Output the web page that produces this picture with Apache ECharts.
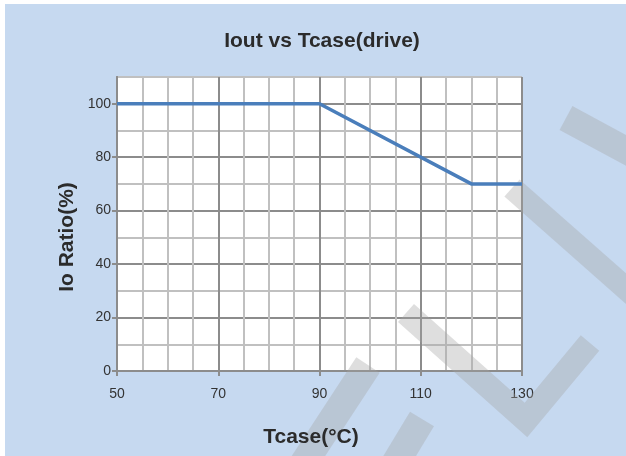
<!DOCTYPE html>
<html>
<head>
<meta charset="utf-8">
<script src="https://cdn.jsdelivr.net/npm/echarts@6/dist/echarts.min.js"></script>
<style>
  html, body { margin: 0; padding: 0; background: #ffffff; }
  #chart { position: absolute; left: 5px; top: 4px; width: 621px; height: 452px; }
</style>
</head>
<body>
<div id="chart"></div>
<script>
// Data
const tcase = [50, 90, 120, 130];
const ioRatio = [100, 100, 70, 70];
const yTickLabels = [0, 20, 40, 60, 80, 100];
const xTickLabels = [50, 70, 90, 110, 130];

const titleText = 'Iout vs Tcase(drive)';
const xName = 'Tcase(°C)';
const yName = 'Io Ratio(%)';

const seriesData = tcase.map((t, i) => [t, ioRatio[i]]);

const OX = 5, OY = 4; // container offset in page
const wmColor = 'rgba(164,164,164,0.36)';
function P(pts) { return pts.map(p => [p[0] - OX, p[1] - OY]); }

const FONT = 'Liberation Sans, Arial, sans-serif';
const major = '#8c8c8c', minor = '#c0c0c0';
const chart = echarts.init(document.getElementById('chart'), null, { renderer: 'canvas' });
chart.setOption({
  backgroundColor: '#c6d9f0',
  animation: false,
  textStyle: { fontFamily: FONT },
  title: {
    text: titleText,
    left: 317 - OX,
    top: 22,
    textAlign: 'center',
    textStyle: { fontSize: 21, fontWeight: 'bold', color: '#2b2b2b', fontFamily: FONT }
  },
  grid: {
    left: 112, top: 73, width: 405, height: 294,
    show: true, backgroundColor: '#ffffff', borderWidth: 0
  },
  xAxis: [{
    type: 'value', min: 50, max: 130, interval: 5,
    axisLine: { show: true, lineStyle: { color: major, width: 2 } },
    axisTick: { show: false },
    axisLabel: { show: false },
    splitLine: { show: true, lineStyle: { color: [major, minor, minor, minor], width: 2 } }
  }, {
    type: 'value', min: 50, max: 130, position: 'bottom',
    axisLine: { show: true, lineStyle: { color: major, width: 2 } },
    axisTick: { show: true, customValues: xTickLabels, length: 5, lineStyle: { color: major, width: 2 } },
    axisLabel: { customValues: xTickLabels, fontSize: 14, color: '#333333', margin: 16 },
    splitLine: { show: false }
  }],
  yAxis: [{
    type: 'value', min: 0, max: 110, interval: 10,
    axisLine: { show: true, lineStyle: { color: major, width: 2 } },
    axisTick: { show: false },
    axisLabel: { show: false },
    splitLine: { show: true, lineStyle: { color: [major, minor], width: 2 } }
  }, {
    type: 'value', min: 0, max: 110, position: 'left',
    axisLine: { show: true, lineStyle: { color: major, width: 2 } },
    axisTick: { show: true, customValues: yTickLabels, length: 5, lineStyle: { color: major, width: 2 } },
    axisLabel: { customValues: yTickLabels, fontSize: 14, color: '#333333', margin: 6 },
    splitLine: { show: false }
  }],
  graphic: [
    { type: 'polyline', z: 1, silent: true, shape: { points: P([[566,118],[690,185]]) }, style: { stroke: wmColor, lineWidth: 27, fill: null, lineCap: 'butt' } },
    { type: 'polyline', z: 1, silent: true, shape: { points: P([[512,188],[700,354]]) }, style: { stroke: wmColor, lineWidth: 23, fill: null, lineCap: 'butt' } },
    { type: 'polyline', z: 1, silent: true, shape: { points: P([[406,313],[526,420],[590,343]]) }, style: { stroke: wmColor, lineWidth: 24, fill: null, lineCap: 'butt', lineJoin: 'miter' } },
    { type: 'polyline', z: 1, silent: true, shape: { points: P([[368,365],[296,475]]) }, style: { stroke: wmColor, lineWidth: 28, fill: null, lineCap: 'butt' } },
    { type: 'polyline', z: 1, silent: true, shape: { points: P([[422,419],[390,472]]) }, style: { stroke: wmColor, lineWidth: 28, fill: null, lineCap: 'butt' } },
    { type: 'text', z: 5, silent: true, x: 67 - OX, y: 237 - OY, rotation: Math.PI / 2,
      style: { text: yName, font: 'bold 21px ' + FONT, fill: '#2b2b2b', align: 'center', verticalAlign: 'middle' } },
    { type: 'text', z: 5, silent: true, x: 311 - OX, y: 437 - OY,
      style: { text: xName, font: 'bold 21px ' + FONT, fill: '#2b2b2b', align: 'center', verticalAlign: 'middle' } }
  ],
  series: [{
    type: 'line',
    xAxisIndex: 0, yAxisIndex: 0,
    data: seriesData,
    showSymbol: false,
    symbol: 'none',
    z: 3,
    lineStyle: { color: '#4a7ebb', width: 3.5 },
    itemStyle: { color: '#4a7ebb' }
  }]
});
</script>
</body>
</html>
